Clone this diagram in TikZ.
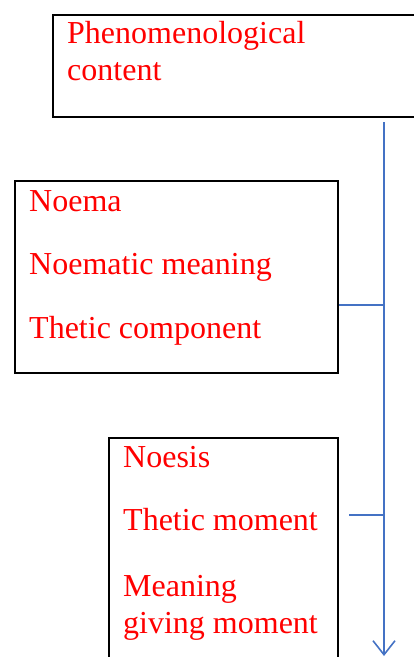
\documentclass[tikz,border=0pt]{standalone}
\usepackage{fontspec}
\setmainfont{Liberation Serif}
\usepackage{tikz}
\usetikzlibrary{arrows.meta}
\definecolor{flowblue}{RGB}{68,114,196}

\begin{document}
\begin{tikzpicture}[x=1pt, y=-1pt,
    box/.style={draw=black, line width=2pt, anchor=north west, inner sep=0pt},
    lbl/.style={text=red, anchor=base west, inner sep=0pt,
      font=\fontsize{32}{37}\selectfont},
    flow/.style={draw=flowblue, line width=1.6pt}]
    \useasboundingbox (0,0) rectangle (414,657);
    \clip (0,0) rectangle (414,657);

    \node [box, minimum width=380pt, minimum height=102pt] (phen) at (52,14) {};
    \node [box, minimum width=323pt, minimum height=192pt] (noema) at (14,180) {};
    \node [box, minimum width=229pt, minimum height=240pt] (noesis) at (108,437) {};

    \node [lbl] (phent) at (67,43) {Phenomenological};
    \node [lbl] (phenc) at (67,80) {content};

    \node [lbl] (noemat) at (29,211) {Noema};
    \node [lbl] (noemam) at (29,274) {Noematic meaning};
    \node [lbl] (noemac) at (29,338) {Thetic component};

    \node [lbl] (noesist) at (123,467) {Noesis};
    \node [lbl] (noesism) at (123,530) {Thetic moment};
    \node [lbl] (noesisg) at (123,596) {Meaning};
    \node [lbl] (noesisgm) at (123,633) {giving moment};

    \coordinate (trunktop) at (384,122);
    \coordinate (trunkbot) at (384,656);
    \coordinate (noemaj) at (384,305);
    \coordinate (noesisj) at (384,515);
    \coordinate (noesisl) at (349,515);

    \draw [flow, -{Straight Barb[length=14pt, width=22pt]}] (trunktop) -- (trunkbot);
    \draw [flow] (noema.east |- noemaj) -- (noemaj);
    \draw [flow] (noesisl) -- (noesisj);
\end{tikzpicture}
\end{document}
